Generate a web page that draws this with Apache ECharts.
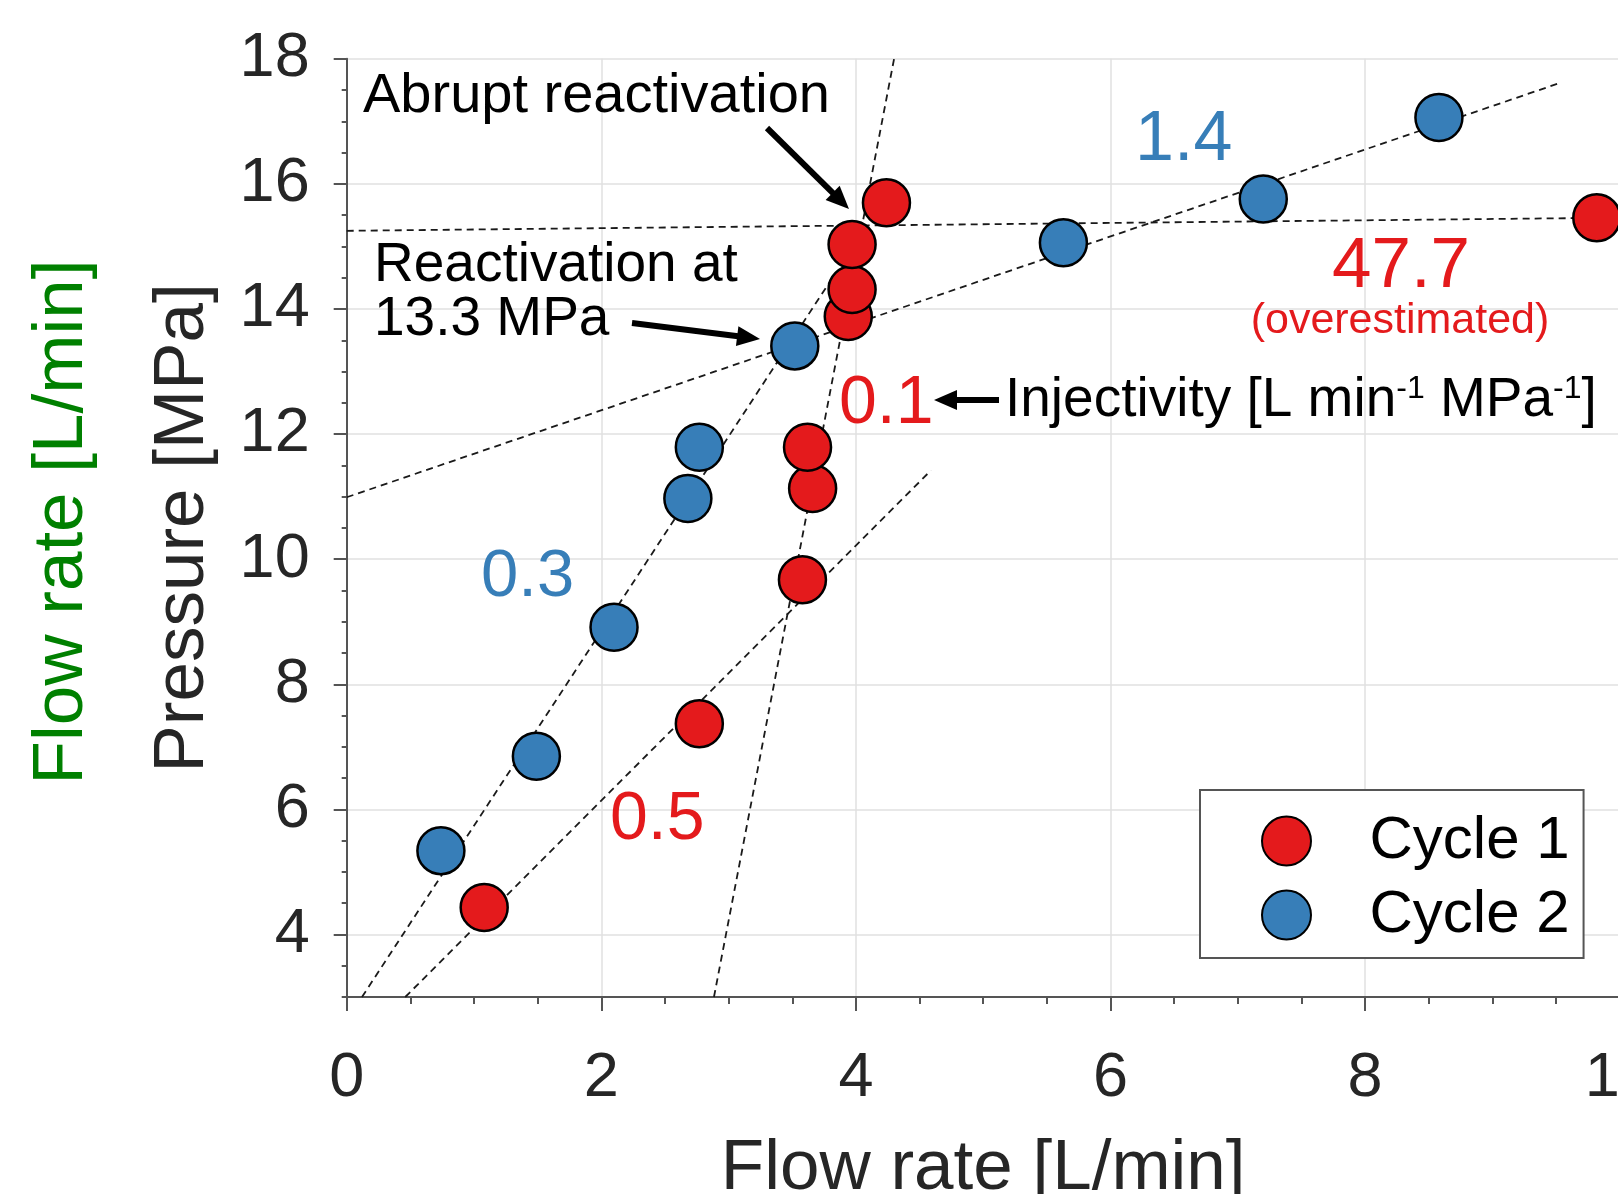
<!DOCTYPE html>
<html>
<head>
<meta charset="utf-8">
<script src="https://cdn.jsdelivr.net/npm/echarts@6/dist/echarts.min.js"></script>
<style>
  html, body { margin: 0; padding: 0; background: #fff; }
  #chart { width: 1618px; height: 1194px; }
</style>
</head>
<body>
<div id="chart"></div>
<script>
// flow rate [L/min] and pressure [MPa]
const cycle1X = [1.08, 2.77, 3.58, 3.66, 3.62, 3.94, 3.97, 3.97, 4.24, 9.82];
const cycle1Y = [4.43, 7.37, 9.67, 11.13, 11.79, 13.88, 14.31, 15.03, 15.70, 15.46];
const cycle2X = [0.74, 1.49, 2.10, 2.68, 2.77, 3.52, 5.63, 7.20, 8.58];
const cycle2Y = [5.34, 6.85, 8.91, 10.97, 11.79, 13.41, 15.06, 15.76, 17.06];

// dashed fit lines (end points), labelled by injectivity
const fitNames = ['0.3', '0.5', '0.1', '1.4', '47.7'];
const fitX = [[0.12, 3.80], [0.46, 4.59], [2.885, 4.30], [0, 9.54], [0, 10]];
const fitY = [[3, 14.45], [3, 11.42], [3, 18], [10.99, 17.62], [15.25, 15.46]];

const xMin = 0, xMax = 10, xStep = 2;
const yMin = 3, yMax = 18;

const RED = '#e41a1c';
const BLUE = '#377eb8';
const FONT = '"Liberation Sans", Arial, Helvetica, sans-serif';

const zip = (xs, ys) => xs.map((x, i) => [x, ys[i]]);

const chart = echarts.init(document.getElementById('chart'));

const fitSeries = fitNames.map((name, i) => ({
    name: 'fit ' + name,
    type: 'line',
    data: zip(fitX[i], fitY[i]),
    symbol: 'none',
    silent: true,
    z: 3,
    lineStyle: { color: '#1a1a1a', width: 1.8, type: [7, 5] }
}));

function label(text, x, y, size, color, align) {
    return {
        type: 'text', x: x, y: y, z: 100,
        style: {
            text: text, fill: color,
            fontSize: size, fontFamily: FONT,
            align: align || 'left', textAlign: align || 'left',
            verticalAlign: 'middle', textVerticalAlign: 'middle'
        }
    };
}

function arrow(x1, y1, x2, y2) {
    const dx = x2 - x1, dy = y2 - y1;
    const len = Math.hypot(dx, dy);
    const ux = dx / len, uy = dy / len;
    const hl = 23, hw = 10;
    const bx = x2 - ux * hl, by = y2 - uy * hl;
    return [
        { type: 'line', z: 100, shape: { x1: x1, y1: y1, x2: bx + ux * 3, y2: by + uy * 3 },
          style: { stroke: '#000', lineWidth: 6 } },
        { type: 'polygon', z: 100,
          shape: { points: [[x2, y2], [bx - uy * hw, by + ux * hw], [bx + uy * hw, by - ux * hw]] },
          style: { fill: '#000' } }
    ];
}

const option = {
    animation: false,
    backgroundColor: '#fff',
    grid: { left: 346.7, top: 58.8, right: -1.7, bottom: 197, outerBoundsMode: 'none', containLabel: false },
    legend: {
        data: ['Cycle 1', 'Cycle 2'],
        orient: 'vertical',
        left: 1200, top: 790,
        padding: [21, 14, 13, 61],
        itemWidth: 156, itemHeight: 49,
        itemGap: 14,
        icon: 'circle',
        backgroundColor: '#fff',
        borderColor: '#555', borderWidth: 2,
        textStyle: { fontSize: 60, fontFamily: FONT, color: '#000', lineHeight: 49 }
    },
    xAxis: {
        type: 'value', min: xMin, max: xMax, interval: xStep,
        name: 'Flow rate [L/min]', nameLocation: 'middle', nameGap: 137,
        nameTextStyle: { fontSize: 71, fontFamily: FONT, color: '#262626' },
        axisLine: { lineStyle: { color: '#555', width: 2 } },
        axisTick: { length: 14, lineStyle: { color: '#555', width: 2 } },
        minorTick: { show: true, splitNumber: 4, length: 7, lineStyle: { color: '#555', width: 2 } },
        axisLabel: { fontSize: 63, fontFamily: FONT, color: '#262626', margin: 50 },
        splitLine: { lineStyle: { color: '#e0e0e0', width: 1.5 } }
    },
    yAxis: [{
        type: 'value', min: yMin, max: yMax, splitNumber: 7,
        name: 'Pressure [MPa]', nameLocation: 'middle', nameGap: 128,
        nameTextStyle: { fontSize: 71, fontFamily: FONT, color: '#262626' },
        axisLine: { show: true, lineStyle: { color: '#555', width: 2 } },
        axisTick: { show: true, length: 13, lineStyle: { color: '#555', width: 2 } },
        axisLabel: { fontSize: 63, fontFamily: FONT, color: '#262626', margin: 37, showMinLabel: false },
        splitLine: { lineStyle: { color: '#e0e0e0', width: 1.5 } }
    }, {
        // minor ticks every 0.5 MPa
        type: 'value', min: yMin, max: yMax, interval: 0.5, position: 'left',
        axisLine: { show: false },
        axisTick: { show: true, length: 5, lineStyle: { color: '#555', width: 2 } },
        axisLabel: { show: false },
        splitLine: { show: false }
    }],
    series: fitSeries.concat([
        {
            name: 'Cycle 1', type: 'scatter', z: 5,
            data: zip(cycle1X, cycle1Y),
            symbol: 'circle', symbolSize: 47,
            itemStyle: { color: RED, borderColor: '#000', borderWidth: 2.5, opacity: 1 }
        },
        {
            name: 'Cycle 2', type: 'scatter', z: 6,
            data: zip(cycle2X, cycle2Y),
            symbol: 'circle', symbolSize: 47,
            itemStyle: { color: BLUE, borderColor: '#000', borderWidth: 2.5, opacity: 1 }
        }
    ]),
    graphic: [
        {
            type: 'text', x: 62, y: 522, rotation: Math.PI / 2, z: 100,
            style: {
                text: 'Flow rate [L/min]', fill: '#008000', fontSize: 71, fontFamily: FONT,
                align: 'center', textAlign: 'center', verticalAlign: 'middle', textVerticalAlign: 'middle'
            }
        },
        label('Abrupt reactivation', 363, 97, 56, '#000'),
        label('Reactivation at', 374, 266, 55, '#000'),
        label('13.3 MPa', 374, 320, 55, '#000'),
        label('0.1', 839, 404, 68, RED),
        label('0.3', 481, 578, 67, BLUE),
        label('0.5', 610, 820, 68, RED),
        label('1.4', 1135, 141, 70, BLUE),
        label('47.7', 1401, 267, 71, RED, 'center'),
        label('(overestimated)', 1400, 321, 43, RED, 'center'),
        {
            type: 'text', x: 1005, y: 401, z: 100,
            style: {
                text: 'Injectivity [L min{s|-1} MPa{s|-1}]',
                fill: '#000', fontSize: 55, fontFamily: FONT, lineHeight: 55,
                align: 'left', textAlign: 'left', verticalAlign: 'middle', textVerticalAlign: 'middle',
                rich: { s: { fontSize: 32, fontFamily: FONT, fill: '#000', color: '#000', lineHeight: 22, verticalAlign: 'top' } }
            }
        }
    ].concat(arrow(767, 128, 849, 209), arrow(632, 323, 760, 339), arrow(999, 400, 934, 400))
};

chart.setOption(option);
</script>
</body>
</html>
